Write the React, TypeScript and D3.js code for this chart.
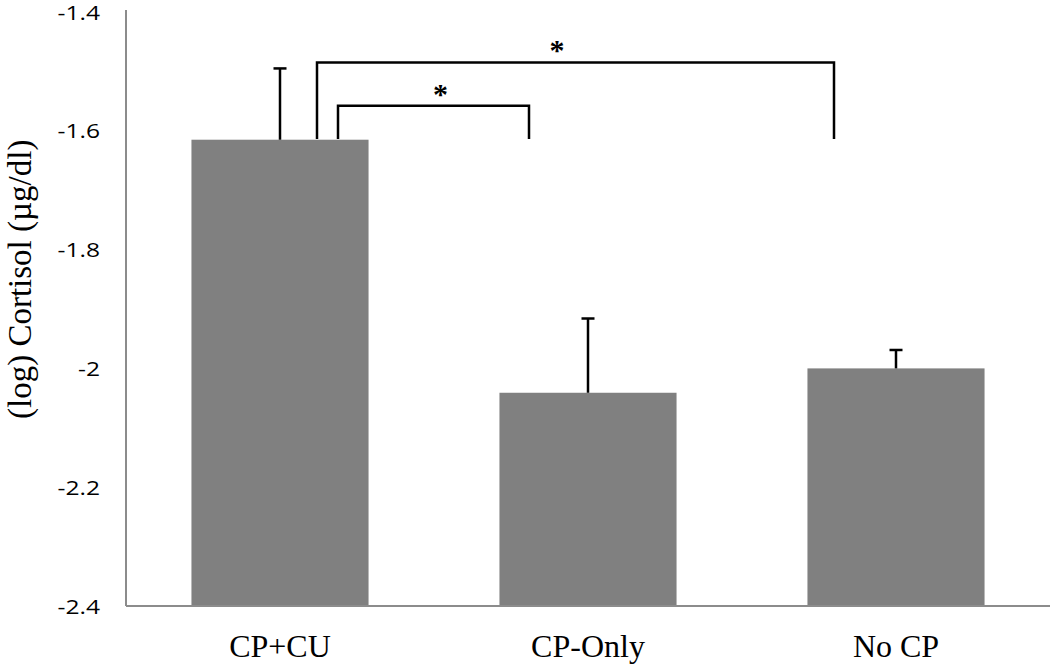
import React from "react";
import * as d3 from "d3";

const categories = ["CP+CU", "CP-Only", "No CP"];
const means = [-1.615, -2.041, -2.0];
const errors = [0.12, 0.125, 0.031];
const yTicks = [-1.4, -1.6, -1.8, -2, -2.2, -2.4];
const yDomain = [-2.4, -1.4];
const yTitle = "(log) Cortisol (µg/dl)";

// significance brackets: between categories, with bracket top level (data units)
const bracketFrom = ["CP+CU", "CP+CU"];
const bracketTo = ["CP-Only", "No CP"];
const bracketTop = [-1.558, -1.485];
const bracketBottom = [-1.614, -1.614];
const bracketLabels = ["*", "*"];

const W = 1050;
const H = 666;
const M = { left: 126, right: 0, top: 12, bottom: 60 };

export default function App() {
  const x = d3
    .scaleBand<string>()
    .domain(categories)
    .range([M.left, W - M.right])
    .paddingInner(0.425)
    .paddingOuter(0.2125);
  const y = d3.scaleLinear().domain(yDomain).range([H - M.bottom, M.top]);
  const base = y(yDomain[0]);
  const fmt = (v: number) => String(v);

  const cx = (c: string) => (x(c) as number) + x.bandwidth() / 2;
  const leftOff = [58, 37];
  const rightOff = [59, 62];
  const starFrac = [0.536, 0.464];

  return (
    <svg width={W} height={H} style={{ position: "absolute", left: 0, top: 0, background: "#fff" }}>
      {/* bars */}
      {categories.map((c, i) => (
        <rect
          key={c}
          x={x(c)}
          y={y(means[i])}
          width={x.bandwidth()}
          height={base - y(means[i])}
          fill="#808080"
        />
      ))}
      {/* error bars */}
      {categories.map((c, i) => (
        <g key={"e" + c} stroke="#000" strokeWidth={2.5}>
          <line x1={cx(c)} x2={cx(c)} y1={y(means[i])} y2={y(means[i] + errors[i])} />
          <line x1={cx(c) - 6.5} x2={cx(c) + 6.5} y1={y(means[i] + errors[i])} y2={y(means[i] + errors[i])} />
        </g>
      ))}
      {/* axes */}
      <line x1={M.left} x2={M.left} y1={M.top - 2} y2={base} stroke="#8c8c8c" strokeWidth={2} />
      <line x1={M.left} x2={W} y1={base} y2={base} stroke="#8c8c8c" strokeWidth={2} />
      {yTicks.map((t) => (
        <g key={t} transform={`translate(100, ${y(t)}) scale(1.2, 1)`}>
          <text
            x={0}
            y={0}
            textAnchor="end"
            dominantBaseline="central"
            fontFamily="'Open Sans', sans-serif"
            fontSize={20.5}
            fill="#000"
          >
            {fmt(t)}
          </text>
        </g>
      ))}
      {categories.map((c) => (
        <text
          key={"l" + c}
          x={cx(c)}
          y={657}
          textAnchor="middle"
          fontFamily="'Liberation Serif', 'Times New Roman', serif"
          fontSize={32}
          fill="#000"
        >
          {c}
        </text>
      ))}
      <text
        transform={`translate(31, ${y(-1.85)}) rotate(-90)`}
        textAnchor="middle"
        fontFamily="'Liberation Serif', 'Times New Roman', serif"
        fontSize={33}
        fill="#000"
      >
        {yTitle}
      </text>
      {/* brackets */}
      {bracketFrom.map((f, i) => {
        const x1 = cx(f) + leftOff[i];
        const x2 = cx(bracketTo[i]) - rightOff[i];
        const yt = y(bracketTop[i]);
        const yb = y(bracketBottom[i]);
        return (
          <g key={"b" + i}>
            <path
              d={`M${x1},${yb}V${yt}H${x2}V${yb}`}
              fill="none"
              stroke="#000"
              strokeWidth={2.5}
            />
            <text
              x={x1 + (x2 - x1) * starFrac[i]}
              y={yt - 2}
              textAnchor="middle"
              fontFamily="'Liberation Serif', serif"
              fontWeight="bold"
              fontSize={30}
              fill="#000"
            >
              {bracketLabels[i]}
            </text>
          </g>
        );
      })}
    </svg>
  );
}
